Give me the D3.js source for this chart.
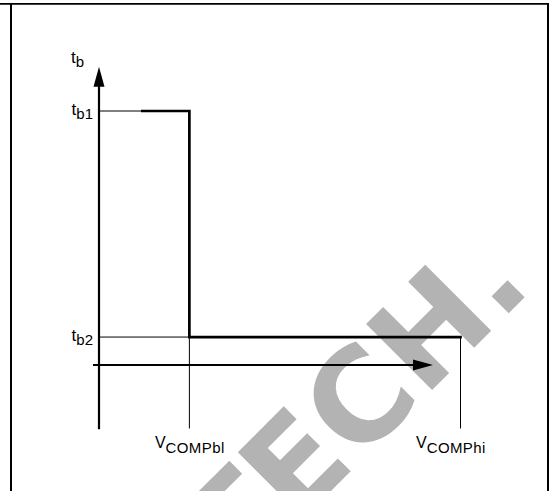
<!DOCTYPE html>
<html>
<head>
<meta charset="utf-8">
<script src="https://cdn.jsdelivr.net/npm/d3@7"></script>
<style>
  body { margin: 0; background: #fff; }
  svg { display: block; }
</style>
</head>
<body>
<div id="chart"></div>
<script>
// levels on the t axis and thresholds on the V axis (arbitrary units)
var yLevels = [1.0, 0.11];
var yLabels = ["b1", "b2"];
var xThresholds = [25, 100];
var xLabels = ["COMPbl", "COMPhi"];
// step curve: starts a bit right of the axis at tb1, drops at VCOMPbl, runs to VCOMPhi
var stepX = [12, 25, 100];
var stepY = [1.0, 0.11, 0.11];

var w = 549, h = 491;

var svg = d3.select("#chart")
    .append("svg")
    .attr("width", w)
    .attr("height", h);

var x = d3.scaleLinear().domain([0, 100]).range([99, 460.5]);
var y = d3.scaleLinear().domain([0, 1]).range([365, 111]);

// watermark, sits behind everything
svg.append("text")
    .text("TECH.")
    .attr("text-anchor", "end")
    .attr("transform", "translate(534,288) rotate(-45)")
    .attr("font-family", "DejaVu Sans, sans-serif")
    .attr("font-weight", "bold")
    .attr("font-size", "128px")
    .attr("fill", "#b3b3b3");

// frame
svg.append("line").attr("x1", 0).attr("x2", w).attr("y1", 3.8).attr("y2", 3.8)
    .attr("stroke", "#000").attr("stroke-width", 1.8);
svg.append("line").attr("x1", 11).attr("x2", 11).attr("y1", 3).attr("y2", h)
    .attr("stroke", "#000").attr("stroke-width", 2);
svg.append("line").attr("x1", 548).attr("x2", 548).attr("y1", 3).attr("y2", h)
    .attr("stroke", "#000").attr("stroke-width", 2);

// thin guide lines
svg.selectAll("line.hguide")
    .data(yLevels)
    .enter()
    .append("line")
    .attr("class", "hguide")
    .attr("x1", x(0))
    .attr("x2", x(xThresholds[0]))
    .attr("y1", function(d) { return y(d); })
    .attr("y2", function(d) { return y(d); })
    .attr("stroke", "#000")
    .attr("stroke-width", 1);

svg.selectAll("line.vguide")
    .data(xThresholds)
    .enter()
    .append("line")
    .attr("class", "vguide")
    .attr("x1", function(d) { return x(d); })
    .attr("x2", function(d) { return x(d); })
    .attr("y1", y(yLevels[1]))
    .attr("y2", y(-0.25))
    .attr("stroke", "#000")
    .attr("stroke-width", 1);

// axes with arrowheads
var arrowLen = 20, arrowHalf = 5.5;
var yTop = y(1.174), xEnd = x(92.4);

svg.append("line")
    .attr("x1", x(0)).attr("x2", x(0))
    .attr("y1", y(-0.253)).attr("y2", yTop + arrowLen - 1)
    .attr("stroke", "#000").attr("stroke-width", 2.2);
svg.append("path")
    .attr("d", "M" + x(0) + "," + yTop +
               "L" + (x(0) - arrowHalf) + "," + (yTop + arrowLen) +
               "L" + (x(0) + arrowHalf) + "," + (yTop + arrowLen) + "Z")
    .attr("fill", "#000");

svg.append("line")
    .attr("x1", x(-1.66)).attr("x2", xEnd - arrowLen + 1)
    .attr("y1", y(0)).attr("y2", y(0))
    .attr("stroke", "#000").attr("stroke-width", 2.2);
svg.append("path")
    .attr("d", "M" + xEnd + "," + y(0) +
               "L" + (xEnd - arrowLen) + "," + (y(0) - arrowHalf) +
               "L" + (xEnd - arrowLen) + "," + (y(0) + arrowHalf) + "Z")
    .attr("fill", "#000");

// the step
var line = d3.line()
    .x(function(d) { return x(d[0]); })
    .y(function(d) { return y(d[1]); })
    .curve(d3.curveStepAfter);

svg.append("path")
    .datum(d3.zip(stepX, stepY))
    .attr("d", line)
    .attr("fill", "none")
    .attr("stroke", "#000")
    .attr("stroke-width", 2.7)
    .attr("stroke-linecap", "square");

// labels
var font = "Liberation Sans, Arial, Helvetica, sans-serif";

var tb = svg.append("text")
    .attr("x", 71)
    .attr("y", yTop - 4)
    .attr("font-family", font)
    .attr("font-size", "17px")
    .text("t");
tb.append("tspan").attr("dy", 4).attr("font-size", "15px").text("b");

svg.selectAll("text.ylab")
    .data(yLevels)
    .enter()
    .append("text")
    .attr("class", "ylab")
    .attr("text-anchor", "end")
    .attr("x", x(0) - 6)
    .attr("y", function(d) { return y(d) + 4; })
    .attr("font-family", font)
    .attr("font-size", "17px")
    .each(function(d, i) {
        var t = d3.select(this);
        t.append("tspan").text("t");
        t.append("tspan").attr("dy", 4).attr("font-size", "15px").text(yLabels[i]);
    });

var xOffsets = [-34.5, -44.5];
svg.selectAll("text.xlab")
    .data(xThresholds)
    .enter()
    .append("text")
    .attr("class", "xlab")
    .attr("x", function(d, i) { return x(d) + xOffsets[i]; })
    .attr("y", 448)
    .attr("font-family", font)
    .attr("font-size", "16px")
    .each(function(d, i) {
        var t = d3.select(this);
        t.append("tspan").text("V");
        t.append("tspan").attr("dy", 5).attr("font-size", "15px")
            .attr("letter-spacing", "0.4px").text(xLabels[i]);
    });
</script>
</body>
</html>
